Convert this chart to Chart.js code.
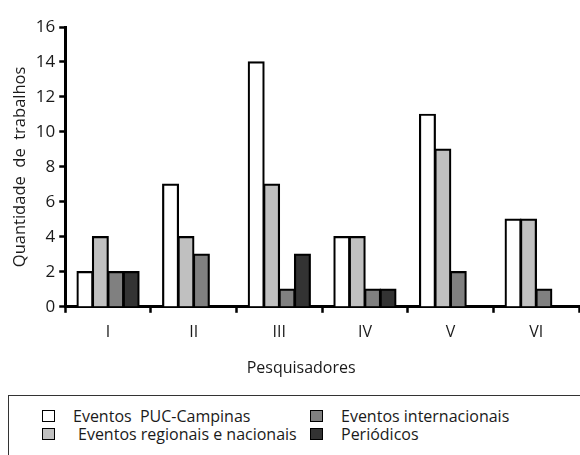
<!DOCTYPE html>
<html>
<head>
<meta charset="utf-8">
<script src="https://cdn.jsdelivr.net/npm/chart.js@4"></script>
<style>
    body { margin: 0; background: #fff; font-family: "Open Sans", sans-serif; color: #1a1a1a; }
    #wrap { position: relative; width: 580px; height: 455px; overflow: hidden; }
    #chart { position: absolute; left: 0; top: 0; }
    #legend {
        position: absolute; left: 8px; top: 395px; width: 620px; height: 90px;
        border: 1px solid #333; box-sizing: border-box;
        display: grid; grid-template-columns: 268px auto; grid-auto-rows: 18px;
        padding: 11px 0 0 33px;
    }
    .item { display: flex; align-items: center; font-size: 16px; white-space: pre; }
    .box { width: 13px; height: 12px; border: 1.5px solid #000; box-sizing: border-box; margin-right: 18px; }
    .item.wide .box { margin-right: 23px; }
</style>
</head>
<body>
<div id="wrap">
    <canvas id="chart" width="580" height="392"></canvas>
    <div id="legend"></div>
</div>
<script>
// Data
const pesquisadores = ['I', 'II', 'III', 'IV', 'V', 'VI'];
const eventosPuc = [2, 7, 14, 4, 11, 5];
const eventosRegionais = [4, 4, 7, 4, 9, 5];
const eventosInternacionais = [2, 3, 1, 1, 2, 1];
const periodicos = [2, null, 3, 1, null, null];

const seriesNames = ['Eventos  PUC-Campinas', 'Eventos regionais e nacionais', 'Eventos internacionais', 'Periódicos'];
const seriesColors = ['#ffffff', '#c0c0c0', '#808080', '#333333'];

const yMin = 0;
const yMax = 16;
const yStep = 2;

const textColor = '#1a1a1a';

// Draw the x axis title a little left of the plot centre, like the original
const xTitlePlugin = {
    id: 'xTitle',
    afterDraw(chart) {
        const ctx = chart.ctx;
        const x = (chart.chartArea.left + chart.chartArea.right) / 2 - 21;
        const y = chart.chartArea.bottom + 62;
        ctx.save();
        ctx.font = '16px "Open Sans"';
        ctx.fillStyle = textColor;
        ctx.textAlign = 'center';
        ctx.textBaseline = 'middle';
        ctx.fillText('Pesquisadores', x, y);
        ctx.restore();
    }
};

const datasets = [eventosPuc, eventosRegionais, eventosInternacionais, periodicos].map((data, i) => ({
    label: seriesNames[i],
    data: data,
    backgroundColor: seriesColors[i],
    borderColor: '#000',
    borderWidth: 2.2,
    // slight overlap so neighbouring bars share one border; nothing for empty slots
    inflateAmount: c => (c.raw == null ? 0 : 0.8),
    categoryPercentage: 0.72,
    barPercentage: 1.0
}));

const ctx = document.getElementById('chart').getContext('2d');
const chart = new Chart(ctx, {
    type: 'bar',
    data: { labels: pesquisadores, datasets: datasets },
    options: {
        responsive: false,
        animation: false,
        layout: { padding: { top: 27, right: 1, left: 8, bottom: 40 } },
        plugins: {
            legend: { display: false },
            tooltip: { enabled: false }
        },
        scales: {
            x: {
                z: 1,
                grid: { display: true, drawOnChartArea: false, drawTicks: true, tickLength: 6, tickWidth: 2.5, tickColor: '#000', offset: true },
                border: { display: true, color: '#000', width: 3 },
                ticks: { color: textColor, font: { family: 'Open Sans', size: 16 }, padding: 10 }
            },
            y: {
                z: 1,
                min: yMin,
                max: yMax,
                grid: { display: true, drawOnChartArea: false, drawTicks: true, tickLength: 6, tickWidth: 2.5, tickColor: '#000' },
                border: { display: true, color: '#000', width: 3 },
                ticks: { stepSize: yStep, color: textColor, font: { family: 'Open Sans', size: 17 }, padding: 4 },
                title: { display: true, text: 'Quantidade  de  trabalhos', color: textColor, font: { family: 'Open Sans', size: 16.5 }, padding: 2 }
            }
        }
    },
    plugins: [xTitlePlugin]
});

// HTML legend, column-major like the original (2 rows x 2 columns)
const legendEl = document.getElementById('legend');
const legendOrder = [0, 2, 1, 3];
legendOrder.forEach(i => {
    const ds = chart.data.datasets[i];
    const item = document.createElement('div');
    item.className = i === 1 ? 'item wide' : 'item';
    const box = document.createElement('span');
    box.className = 'box';
    box.style.background = ds.backgroundColor;
    const label = document.createElement('span');
    label.textContent = ds.label;
    item.appendChild(box);
    item.appendChild(label);
    legendEl.appendChild(item);
});
</script>
</body>
</html>
